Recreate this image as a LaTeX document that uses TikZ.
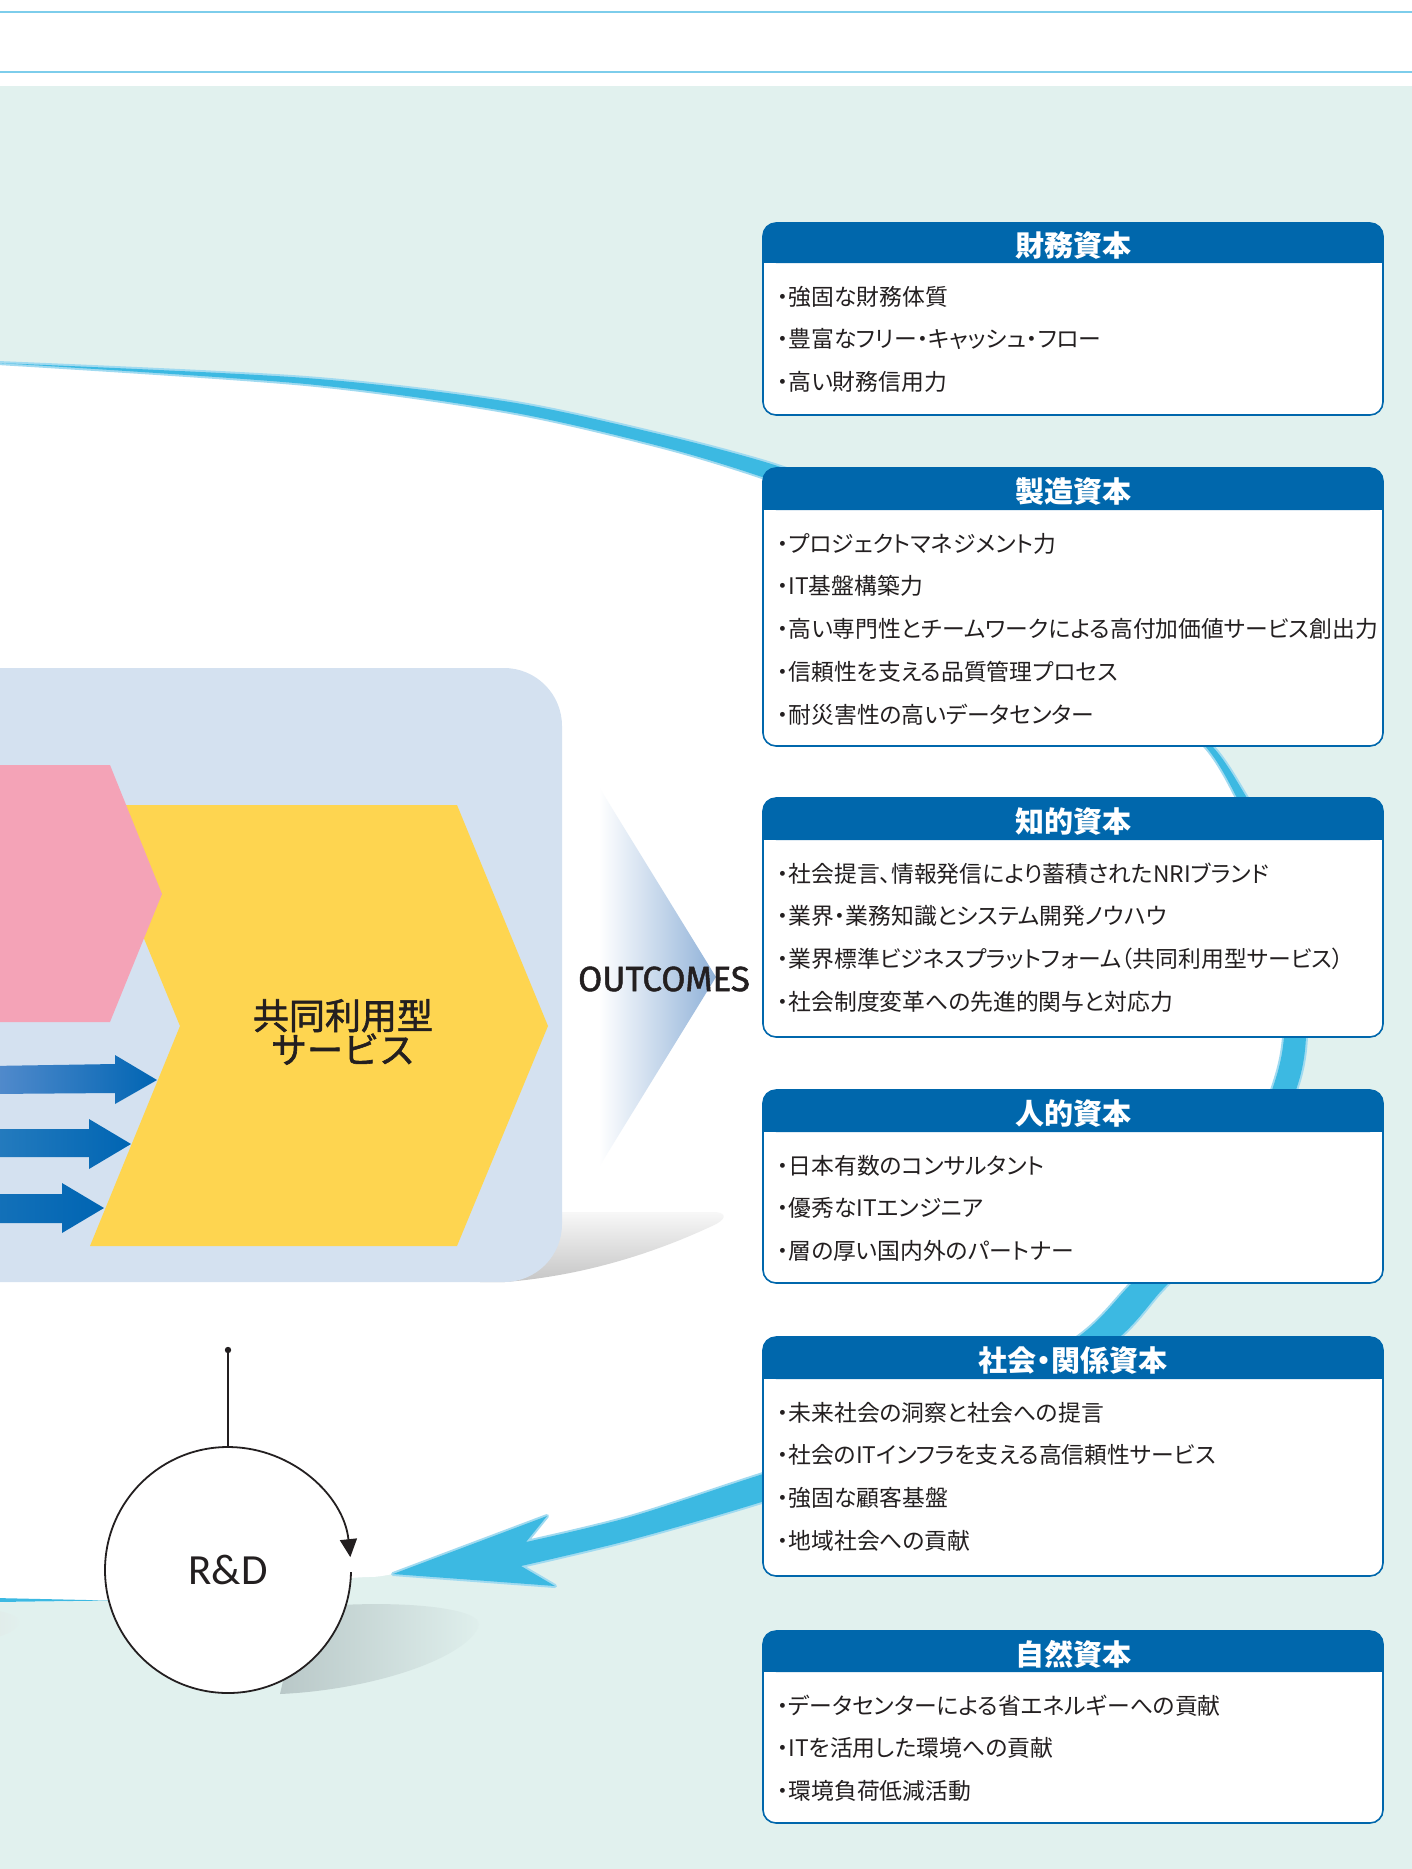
\documentclass[tikz,border=0pt]{standalone}
\usepackage{fontspec}
\newfontfamily\jp[RawFeature=+palt]{Noto Sans CJK JP}
\newfontfamily\jpm[FakeBold=1.6]{Noto Sans CJK JP}
\newfontfamily\outfont[FakeBold=1.4]{Fira Sans}
\newfontfamily\rdfont{Carlito}
\usetikzlibrary{arrows.meta}
\definecolor{mint}{RGB}{225,241,238}
\definecolor{topcyan}{RGB}{125,205,235}
\definecolor{hdrblue}{RGB}{0,103,172}
\definecolor{lightbox}{RGB}{212,225,240}
\definecolor{pinkc}{RGB}{244,163,183}
\definecolor{yellowc}{RGB}{254,213,80}
\definecolor{arrblue}{RGB}{0,101,179}
\definecolor{arrlight}{RGB}{85,140,205}
\definecolor{swcore}{RGB}{60,185,226}
\definecolor{swhalo}{RGB}{160,218,240}
\definecolor{tribl}{RGB}{143,177,216}
\definecolor{textdark}{RGB}{35,31,32}
\definecolor{shadowg}{RGB}{185,200,200}
\newcommand\capbox[6]{%
  \fill[white, rounded corners=13] (763,#2) rectangle (1383,#4);
  \fill[hdrblue, rounded corners=13] (763,#2) rectangle (1383,#3);
  \fill[hdrblue] (763,{#3-16}) rectangle (1383,#3);
  \draw[hdrblue, line width=1.6, rounded corners=13] (763,#2) rectangle (1383,#4);
  \node[hdrtext] (#1) at (1073,{(#2+#3)/2+3}) {#5};
  \foreach \itm [count=\i from 0] in {#6}
    \node[itemtext] (#1-\i) at (777,{#3+33.5+42.8*\i}) {\itm};
}
\begin{document}
\begin{tikzpicture}[x=1pt,y=-1pt,
  hdrtext/.style={inner sep=0, text=white, font={\jp\bfseries\fontsize{29}{29}\selectfont}},
  itemtext/.style={inner sep=0, anchor=west, text=textdark, font={\jp\fontsize{22.8}{26}\selectfont}},
  topline/.style={draw=topcyan, line width=2},
  halo/.style={draw=swhalo, line width=4, line join=round}]
\useasboundingbox (0,0) rectangle (1412,1869);
\clip (0,0) rectangle (1412,1869);
\fill[white] (0,0) rectangle (1412,1869);
\draw[topline] (0,12) -- (1412,12);
\draw[topline] (0,71.5) -- (1412,71.5);
\fill[mint] (0,86) rectangle (1412,1869);
% white region
\fill[white] (-40,363) -- plot[smooth, tension=0.5] coordinates {(0,363.5) (306,384) (510,412) (663,447) (765,478) (900,540) (1040,620) (1150,700) (1205,746) (1236,796) (1268,870) (1284,950) (1284,1037) (1272,1090) (1235,1180) (1180,1240) (1132,1283) (1078,1337) (950,1415) (763,1474) (630,1517) (526,1545) (393,1574) (351,1578) (200,1590) (105,1600) (0,1602)} -- (-40,1602) -- cycle;
% left small shadow
\shade[left color=gray!25, right color=mint] (-80,1608) .. controls (0,1605) and (25,1615) .. (18,1625) .. controls (10,1640) and (-40,1645) .. (-80,1645) -- cycle;
% shadow of R&D circle
\shade[left color=shadowg, right color=mint] (300,1608) .. controls (400,1598) and (490,1608) .. (478,1628) .. controls (462,1660) and (370,1690) .. (280,1694) -- cycle;
% top swoosh
\path[halo] plot[smooth, tension=0.5] coordinates {(-2,363) (306,384) (510,412) (663,447) (765,478) (840,508)} -- plot[smooth, tension=0.5] coordinates {(840,488) (765,462) (663,435) (510,402) (306,378) (-2,363)};
\fill[swcore] plot[smooth, tension=0.5] coordinates {(-2,363) (306,384) (510,412) (663,447) (765,478) (840,508)} -- plot[smooth, tension=0.5] coordinates {(840,488) (765,462) (663,435) (510,402) (306,378) (-2,363)} -- cycle;
% right swoosh with arrow head
\path[halo] plot[smooth, tension=0.5] coordinates {(1150,700) (1205,746) (1236,796) (1268,870) (1284,950) (1284,1037) (1272,1090) (1235,1180) (1180,1240) (1132,1283) (1078,1337) (950,1415) (763,1474) (630,1517) (526,1542)} -- (547,1516) -- (393,1574) -- (555,1586) -- (521,1566) -- plot[smooth, tension=0.5] coordinates {(521,1566) (630,1540) (768,1500) (975,1432) (1110,1345) (1162,1290) (1210,1240) (1258,1180) (1296,1090) (1306,1037) (1304,950) (1285,868) (1244,793) (1210,744) (1150,700)} -- cycle;
\fill[swcore] plot[smooth, tension=0.5] coordinates {(1150,700) (1205,746) (1236,796) (1268,870) (1284,950) (1284,1037) (1272,1090) (1235,1180) (1180,1240) (1132,1283) (1078,1337) (950,1415) (763,1474) (630,1517) (526,1542)} -- (547,1516) -- (393,1574) -- (555,1586) -- (521,1566) -- plot[smooth, tension=0.5] coordinates {(521,1566) (630,1540) (768,1500) (975,1432) (1110,1345) (1162,1290) (1210,1240) (1258,1180) (1296,1090) (1306,1037) (1304,950) (1285,868) (1244,793) (1210,744) (1150,700)} -- cycle;
% thin line bottom left
\fill[swcore] (-5,1598) -- (110,1600.5) -- (-5,1602) -- cycle;
% shadow under light box
\shade[top color=gray!6, bottom color=gray!45] (480,1212) -- (715,1212) .. controls (728,1213) and (726,1220) .. (712,1226) .. controls (650,1255) and (580,1276) .. (505,1282) -- (480,1282) -- cycle;
% light blue box
\fill[lightbox, rounded corners=58] (-100,668) rectangle (562,1282);
% yellow chevron
\fill[yellowc] (89,805) -- (457,805) -- (548,1026) -- (457,1246) -- (90,1246) -- (180,1026) -- cycle;
% pink shape
\fill[pinkc] (-20,765) -- (110,765) -- (162,894) -- (110,1022) -- (-20,1022) -- cycle;
% blue arrows
\shade[left color=arrlight, right color=arrblue] (-10,1066) -- (115,1064) -- (115,1055) -- (157,1080) -- (115,1104) -- (115,1093) -- (-10,1094) -- cycle;
\shade[left color=arrblue!85!white, right color=arrblue] (-10,1129) -- (89,1129) -- (89,1119) -- (131,1144) -- (89,1169) -- (89,1157) -- (-10,1157) -- cycle;
\shade[left color=arrblue!92!white, right color=arrblue] (-10,1194) -- (62,1194) -- (62,1183) -- (104,1208) -- (62,1233) -- (62,1223) -- (-10,1223) -- cycle;
\node[inner sep=0, align=center, text=textdark, font={\jpm\fontsize{36}{34}\selectfont}] (svc) at (343,1032) {共同利用型\\サービス};
% outcomes triangle
\shade[left color=white, right color=tribl] (599,787) -- (716,977) -- (599,1167) -- cycle;
\node[inner sep=0, text=textdark, font={\outfont\fontsize{35}{35}\selectfont}] (outc) at (664,979) {OUTCOMES};
% R&D
\node[circle, fill=white, minimum size=246, inner sep=0, text=textdark, font={\rdfont\fontsize{43}{43}\selectfont}] (rd) at (228,1570) {R\&D};
\draw[textdark, line width=1.8, -{Triangle[length=18pt, width=17pt]}] ([shift={(1:123)}]rd.center) arc[start angle=1, end angle=354, radius=123];
\coordinate (dot) at (228,1350);
\draw[textdark, line width=1.2] (dot) -- (rd.north);
\fill[textdark] (dot) circle (3.2);
% capital boxes
\capbox{fin}{223}{263}{415}{財務資本}{・強固な財務体質, ・豊富なフリー・キャッシュ・フロー, ・高い財務信用力}
\capbox{mfg}{468}{510}{746}{製造資本}{・プロジェクトマネジメント力, ・IT基盤構築力, ・高い専門性とチームワークによる高付加価値サービス創出力, ・信頼性を支える品質管理プロセス, ・耐災害性の高いデータセンター}
\capbox{int}{798}{840}{1037}{知的資本}{・社会提言、情報発信により蓄積されたNRIブランド, ・業界・業務知識とシステム開発ノウハウ, ・業界標準ビジネスプラットフォーム（共同利用型サービス）, ・社会制度変革への先進的関与と対応力}
\capbox{hum}{1090}{1132}{1283}{人的資本}{・日本有数のコンサルタント, ・優秀なITエンジニア, ・層の厚い国内外のパートナー}
\capbox{soc}{1337}{1379}{1576}{社会・関係資本}{・未来社会の洞察と社会への提言, ・社会のITインフラを支える高信頼性サービス, ・強固な顧客基盤, ・地域社会への貢献}
\capbox{nat}{1631}{1672}{1823}{自然資本}{・データセンターによる省エネルギーへの貢献, ・ITを活用した環境への貢献, ・環境負荷低減活動}
\end{tikzpicture}
\end{document}
